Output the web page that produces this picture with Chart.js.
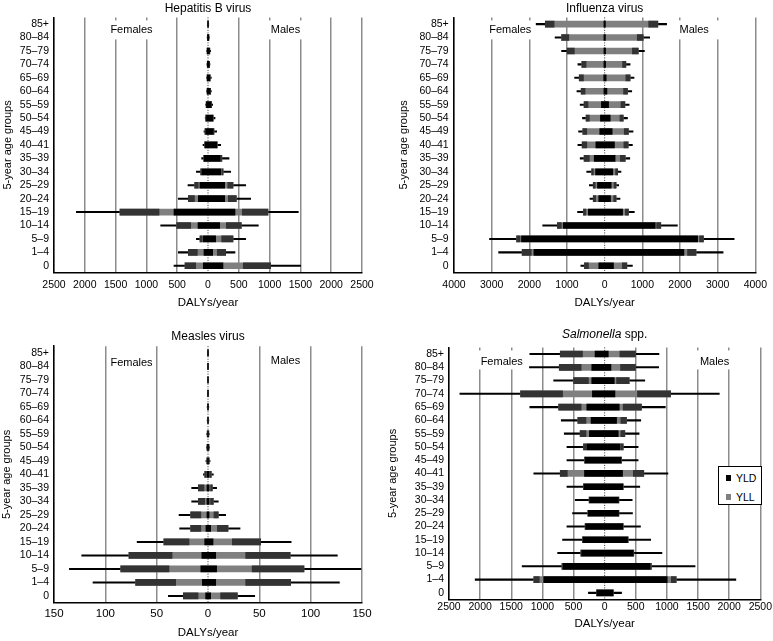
<!DOCTYPE html>
<html>
<head>
<meta charset="utf-8">
<script src="https://cdn.jsdelivr.net/npm/chart.js@4.4.1/dist/chart.umd.min.js"></script>
<style>
  body { margin: 0; background: #fff; width: 773px; height: 641px; position: relative; overflow: hidden;
         font-family: 'Liberation Sans', Arial, sans-serif; }
  canvas { position: absolute; }
  #legend { position: absolute; left: 718px; top: 466px; width: 42px; height: 37px; border: 1px solid #000;
            background: #fff; font-size: 10.5px; color: #000; }
  #legend div { position: absolute; left: 7px; height: 12px; line-height: 12px; }
  #legend span { display: inline-block; width: 5px; height: 6px; margin-right: 5px; vertical-align: 1px; }
</style>
</head>
<body>
<canvas id="hep" width="386" height="320" style="left:0;top:0"></canvas>
<canvas id="flu" width="387" height="320" style="left:386px;top:0"></canvas>
<canvas id="mea" width="386" height="321" style="left:0;top:320px"></canvas>
<canvas id="sal" width="387" height="321" style="left:386px;top:320px"></canvas>
<div id="legend">
  <div style="top:5px"><span style="background:#000"></span>YLD</div>
  <div style="top:24px"><span style="background:#808080"></span>YLL</div>
</div>
<script>
// age groups, top row first
const ageGroups = ['85+', '80–84', '75–79', '70–74', '65–69', '60–64', '55–59', '50–54', '45–49', '40–41',
                   '35–39', '30–34', '25–29', '20–24', '15–19', '10–14', '5–9', '1–4', '0'];

// Hepatitis B virus: YLD, total DALY (YLD+YLL), DALY interval low / high
const hepF_yld  = [4, 8, 12, 10, 12, 12, 25, 25, 35, 45, 60, 100, 130, 157, 552, 162, 80, 65, 76];
const hepF_daly = [5, 10, 15, 12, 15, 15, 30, 38, 49, 54, 70, 119, 216, 319, 1429, 509, 130, 319, 373];
const hepF_lo   = [5, 9, 13, 11, 13, 13, 27, 32, 42, 50, 65, 110, 160, 220, 795, 281, 100, 173, 200];
const hepF_hi   = [8, 14, 20, 18, 22, 22, 38, 45, 65, 81, 103, 189, 325, 482, 2137, 768, 189, 482, 552];
const hepM_yld  = [6, 12, 25, 20, 30, 35, 50, 75, 85, 140, 200, 210, 271, 271, 438, 189, 124, 76, 243];
const hepM_daly = [8, 15, 30, 25, 35, 40, 55, 85, 97, 151, 225, 245, 406, 460, 974, 541, 406, 287, 1017];
const hepM_lo   = [7, 14, 28, 23, 33, 38, 52, 80, 91, 145, 215, 230, 320, 330, 557, 298, 222, 151, 573];
const hepM_hi   = [12, 22, 43, 32, 54, 54, 76, 114, 141, 206, 341, 368, 611, 693, 1466, 817, 611, 438, 1504];

// Influenza virus
const fluF_yld  = [20, 20, 20, 20, 25, 20, 87, 113, 130, 234, 277, 242, 190, 156, 433, 1100, 2208, 1879, 156];
const fluF_daly = [1576, 1143, 996, 606, 675, 624, 546, 494, 580, 598, 546, 346, 303, 303, 563, 1256, 2338, 2191, 537];
const fluF_lo   = [1342, 953, 805, 494, 563, 520, 442, 407, 476, 476, 407, 300, 250, 240, 500, 1150, 2250, 1950, 430];
const fluF_hi   = [1819, 1316, 1143, 710, 797, 736, 650, 589, 693, 710, 650, 476, 407, 390, 719, 1645, 3057, 2815, 632];
const fluM_yld  = [20, 20, 25, 25, 40, 60, 104, 147, 199, 260, 277, 216, 173, 156, 476, 1342, 2468, 2104, 234];
const fluM_daly = [1412, 1022, 892, 563, 675, 606, 537, 494, 632, 624, 546, 346, 303, 303, 632, 1490, 2624, 2425, 589];
const fluM_lo   = [1169, 866, 736, 476, 563, 502, 433, 407, 520, 511, 416, 290, 250, 240, 550, 1380, 2520, 2200, 470];
const fluM_hi   = [1645, 1195, 1056, 675, 779, 719, 650, 606, 753, 736, 667, 433, 372, 407, 788, 1931, 3438, 3144, 736];

// Measles virus
const meaF_yld  = [0.2, 0.2, 0.2, 0.2, 0.2, 0.2, 0.3, 0.5, 0.5, 1, 1, 1, 1, 2, 3.2, 6, 7, 5.5, 2.3];
const meaF_daly = [0.4, 0.4, 0.4, 0.4, 0.5, 0.5, 0.8, 1, 1.2, 3.2, 9.4, 9.4, 16.9, 16.9, 43, 77, 85, 70.5, 24];
const meaF_lo   = [0.3, 0.3, 0.3, 0.3, 0.4, 0.4, 0.6, 0.8, 1, 2, 3.9, 3.2, 7, 7, 18.5, 35, 38, 31.5, 9.7];
const meaF_hi   = [0.6, 0.6, 0.6, 0.6, 0.8, 0.8, 1.2, 1.5, 2, 4.5, 15.9, 15.9, 28.2, 27.6, 69, 123, 135, 112, 38.6];
const meaM_yld  = [0.2, 0.2, 0.2, 0.2, 0.2, 0.2, 0.3, 0.5, 0.5, 1, 1, 1, 1, 2.6, 4.9, 7.5, 8.4, 7.5, 2.6];
const meaM_daly = [0.4, 0.4, 0.4, 0.4, 0.5, 0.5, 0.8, 1, 1.2, 3.2, 4.2, 5.2, 10, 19.5, 51.3, 80, 93.5, 80.5, 28.6];
const meaM_lo   = [0.3, 0.3, 0.3, 0.3, 0.4, 0.4, 0.6, 0.8, 1, 2, 2.6, 2.5, 5.8, 9.1, 23.7, 36.7, 43, 36.7, 12.3];
const meaM_hi   = [0.6, 0.6, 0.6, 0.6, 0.8, 0.8, 1.2, 1.5, 2, 5.2, 8.4, 10, 17.2, 31.2, 81, 126, 149, 128, 45.5];

// Salmonella spp.
const salF_yld  = [154, 207, 207, 197, 287, 218, 245, 287, 310, 324, 330, 240, 262, 305, 345, 370, 665, 979, 124];
const salF_daly = [713, 729, 500, 1351, 739, 431, 394, 340, 324, 713, 340, 250, 271, 314, 356, 383, 686, 1138, 128];
const salF_lo   = [356, 378, 261, 676, 378, 300, 300, 300, 317, 600, 335, 245, 266, 310, 350, 377, 676, 1050, 126];
const salF_hi   = [1202, 1208, 819, 2325, 1202, 697, 649, 606, 606, 1138, 606, 473, 516, 606, 676, 755, 1325, 2080, 261];
const salM_yld  = [58, 101, 154, 165, 234, 191, 218, 245, 260, 287, 290, 220, 222, 290, 368, 455, 730, 1005, 133];
const salM_daly = [495, 495, 394, 1059, 591, 351, 324, 298, 271, 628, 298, 229, 229, 298, 378, 468, 750, 1149, 138];
const salM_lo   = [245, 255, 191, 527, 298, 260, 260, 260, 265, 460, 294, 225, 225, 294, 373, 461, 740, 1070, 135];
const salM_hi   = [872, 867, 644, 1841, 974, 580, 553, 537, 537, 1016, 564, 442, 447, 575, 739, 920, 1452, 2107, 271];

const FONT = "'Liberation Sans', Arial, sans-serif";
Chart.defaults.font.family = FONT;
Chart.defaults.color = '#000';

const panels = [
  { id: 'hep', title: [['Hepatitis B virus', false]], titleY: 8.2, max: 2500, step: 500,
    f: [hepF_yld, hepF_daly, hepF_lo, hepF_hi], m: [hepM_yld, hepM_daly, hepM_lo, hepM_hi],
    pad: { left: 0, right: 24, top: 17.4, bottom: 10 }, yW: 54, yTickPad: 5, yTitlePad: 1, xH: 37.5, xTickPad: 6, tickSize: 10.5,
    tags: [{ text: 'Females', x: -1242, dy: 12.5, l: 24, r: 24 }, { text: 'Males', x: 1258, dy: 12.5, l: 20, r: 20 }] },
  { id: 'flu', title: [['Influenza virus', false]], titleY: 8.2, max: 4000, step: 1000,
    f: [fluF_yld, fluF_daly, fluF_lo, fluF_hi], m: [fluM_yld, fluM_daly, fluM_lo, fluM_hi],
    pad: { left: 10.4, right: 11, top: 17.4, bottom: 10 }, yW: 57.6, yTickPad: 5.3, yTitlePad: 1, xH: 37.5, xTickPad: 6, tickSize: 10.5,
    tags: [{ text: 'Females', x: -2506, dy: 12.5, l: 22, r: 24 }, { text: 'Males', x: 2377, dy: 12.5, l: 18, r: 28 }] },
  { id: 'mea', title: [['Measles virus', false]], titleY: 17, max: 150, step: 50,
    f: [meaF_yld, meaF_daly, meaF_lo, meaF_hi], m: [meaM_yld, meaM_daly, meaM_lo, meaM_hi],
    pad: { left: 0, right: 24, top: 26.2, bottom: 1.4 }, yW: 54, yTickPad: 5, yTitlePad: 0, xH: 36.9, xTickPad: 4, tickSize: 11.5,
    tags: [{ text: 'Females', x: -74.5, dy: 16.7, l: 22, r: 22 }, { text: 'Males', x: 75.5, dy: 14.7, l: 16, r: 16 }] },
  { id: 'sal', title: [['Salmonella', true], [' spp.', false]], titleY: 15, max: 2500, step: 500,
    f: [salF_yld, salF_daly, salF_lo, salF_hi], m: [salM_yld, salM_daly, salM_lo, salM_hi],
    pad: { left: 0, right: 11, top: 27.4, bottom: 10.4 }, yW: 63, yTickPad: 5, yTitlePad: 0, xH: 31.1, xTickPad: 1, tickSize: 10.5,
    tags: [{ text: 'Females', x: -1653, dy: 14.6, l: 25, r: 23 }, { text: 'Males', x: 1765, dy: 14.6, l: 20, r: 20 }] }
];

function makeDecor(cfg) {
  return {
    id: 'decor',
    beforeDatasetsDraw(chart) {
      const { ctx, chartArea: a, scales: { x } } = chart;
      ctx.save();
      // dotted line at zero
      const x0 = x.getPixelForValue(0);
      ctx.strokeStyle = '#333';
      ctx.lineWidth = 1;
      ctx.setLineDash([1, 1.5]);
      ctx.beginPath();
      ctx.moveTo(x0, a.top);
      ctx.lineTo(x0, a.bottom);
      ctx.stroke();
      ctx.setLineDash([]);
      // Females / Males labels on white boxes
      ctx.font = '11px ' + FONT;
      ctx.textAlign = 'center';
      ctx.textBaseline = 'middle';
      cfg.tags.forEach(t => {
        const cx = x.getPixelForValue(t.x);
        ctx.fillStyle = '#fff';
        ctx.fillRect(cx - t.l, a.top + 3, t.l + t.r, 19);
        ctx.fillStyle = '#000';
        ctx.fillText(t.text, cx, a.top + t.dy);
      });
      ctx.restore();
    },
    afterDraw(chart) {
      const { ctx, chartArea: a } = chart;
      ctx.save();
      ctx.fillStyle = '#000';
      ctx.textBaseline = 'middle';
      ctx.textAlign = 'left';
      const fonts = cfg.title.map(p => (p[1] ? 'italic ' : '') + '12px ' + FONT);
      const widths = cfg.title.map((p, i) => { ctx.font = fonts[i]; return ctx.measureText(p[0]).width; });
      let cx = (a.left + a.right) / 2 - widths.reduce((s, w) => s + w, 0) / 2;
      cfg.title.forEach((p, i) => {
        ctx.font = fonts[i];
        ctx.fillText(p[0], cx, cfg.titleY);
        cx += widths[i];
      });
      ctx.restore();
    }
  };
}

panels.forEach(cfg => {
  const [fYld, fDaly, fLo, fHi] = cfg.f;
  const [mYld, mDaly, mLo, mHi] = cfg.m;
  const bar = { grouped: false, borderWidth: 0 };
  new Chart(document.getElementById(cfg.id), {
    type: 'bar',
    data: {
      labels: ageGroups,
      datasets: [
        { ...bar, label: 'YLD', order: 0, barThickness: 6, backgroundColor: '#000',
          data: ageGroups.map((_, i) => [-fYld[i], mYld[i]]) },
        { ...bar, label: 'interval F', order: 1, barThickness: 6, backgroundColor: '#333',
          data: ageGroups.map((_, i) => [-fDaly[i], -fLo[i]]) },
        { ...bar, label: 'interval M', order: 1, barThickness: 6, backgroundColor: '#333',
          data: ageGroups.map((_, i) => [mLo[i], mDaly[i]]) },
        { ...bar, label: 'YLL', order: 2, barThickness: 6, backgroundColor: '#808080',
          data: ageGroups.map((_, i) => [-fDaly[i], mDaly[i]]) },
        { ...bar, label: 'range', order: 3, barThickness: 1.4, backgroundColor: '#000',
          data: ageGroups.map((_, i) => [-fHi[i], mHi[i]]) }
      ]
    },
    options: {
      indexAxis: 'y',
      responsive: false,
      animation: false,
      devicePixelRatio: 1,
      layout: { padding: cfg.pad },
      plugins: { legend: { display: false }, tooltip: { enabled: false }, title: { display: false } },
      scales: {
        x: {
          min: -cfg.max, max: cfg.max,
          ticks: { stepSize: cfg.step, color: '#000', font: { size: cfg.tickSize }, padding: cfg.xTickPad,
                   maxRotation: 0, autoSkip: false, callback: v => String(Math.abs(v)) },
          grid: { color: c => (c.tick && c.tick.value === 0 ? 'rgba(0,0,0,0)' : '#8c8c8c'), lineWidth: 1.5, drawTicks: false },
          border: { color: '#000', width: 1.5 },
          title: { display: true, text: 'DALYs/year', color: '#000', font: { size: 11.5 }, padding: 0 },
          afterFit: s => { s.height = cfg.xH; }
        },
        y: {
          grid: { display: false, drawTicks: false },
          border: { color: '#000', width: 1.5 },
          ticks: { color: '#000', font: { size: 10.5 }, padding: cfg.yTickPad, autoSkip: false },
          title: { display: true, text: '5-year age groups', color: '#000', font: { size: 11 }, padding: cfg.yTitlePad },
          afterFit: s => { s.width = cfg.yW; }
        }
      }
    },
    plugins: [makeDecor(cfg)]
  });
});
</script>
</body>
</html>
